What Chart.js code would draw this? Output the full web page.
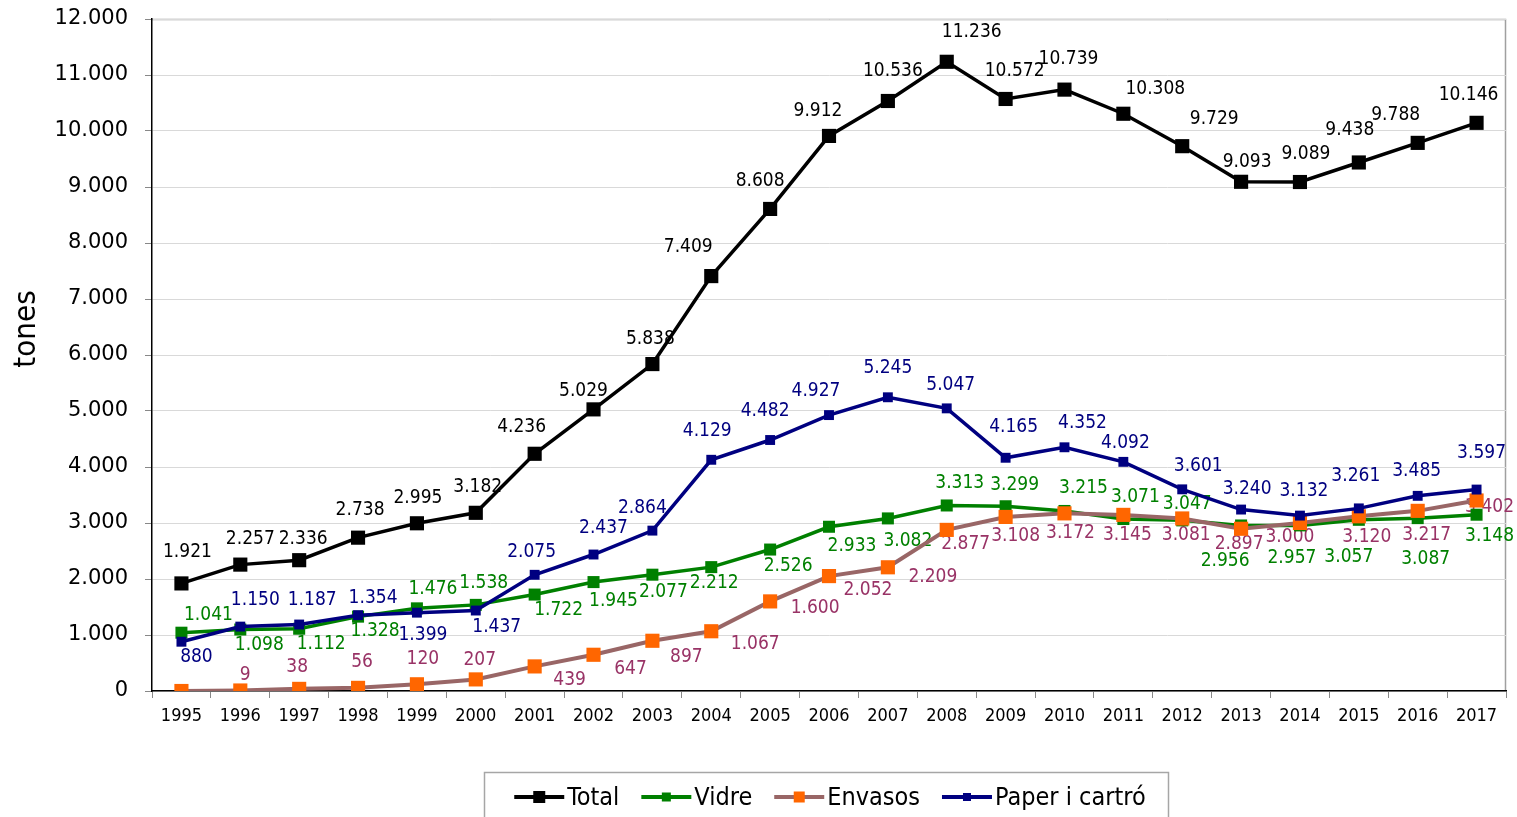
<!DOCTYPE html>
<html>
<head>
<meta charset="utf-8">
<script src="https://cdn.jsdelivr.net/npm/chart.js@4/dist/chart.umd.min.js"></script>
<style>
html, body { margin: 0; padding: 0; background: #fff; }
</style>
</head>
<body>
<canvas id="residusChart" width="1517" height="817"></canvas>
<script>
// data
var years = ['1995', '1996', '1997', '1998', '1999', '2000', '2001', '2002', '2003', '2004', '2005', '2006',
    '2007', '2008', '2009', '2010', '2011', '2012', '2013', '2014', '2015', '2016', '2017'];
var total = [1921, 2257, 2336, 2738, 2995, 3182, 4236, 5029, 5838, 7409, 8608, 9912,
    10536, 11236, 10572, 10739, 10308, 9729, 9093, 9089, 9438, 9788, 10146];
var vidre = [1041, 1098, 1112, 1328, 1476, 1538, 1722, 1945, 2077, 2212, 2526, 2933,
    3082, 3313, 3299, 3215, 3071, 3047, 2956, 2957, 3057, 3087, 3148];
var envasos = [0, 9, 38, 56, 120, 207, 439, 647, 897, 1067, 1600, 2052,
    2209, 2877, 3108, 3172, 3145, 3081, 2897, 3000, 3120, 3217, 3402];
var paper = [880, 1150, 1187, 1354, 1399, 1437, 2075, 2437, 2864, 4129, 4482, 4927,
    5245, 5047, 4165, 4352, 4092, 3601, 3240, 3132, 3261, 3485, 3597];
var yMax = 12000;
var yStep = 1000;

// where each value label sits relative to its point (dx, dy in px)
var totalLabelPos = [[6,-31],[10,-26],[4,-21],[2,-28],[1,-25],[2,-26],[-13,-27],[-10,-18],[-2,-25],[-23,-29],[-10,-28],[-11,-25],
    [5,-30],[25,-30],[9,-28],[4,-31],[32,-25],[32,-27],[6,-20],[6,-28],[-9,-32],[-22,-28],[-8,-28]];
var vidreLabelPos = [[27,-18],[19,16],[22,15],[17,14],[16,-19],[8,-22],[24,15],[20,19],[11,17],[3,16],[18,17],[23,19],
    [20,23],[13,-22],[9,-21],[19,-23],[12,-22],[5,-16],[-16,36],[-8,33],[-10,37],[8,41],[13,21]];
var envasosLabelPos = [null,[5,-15],[-2,-22],[4,-26],[6,-25],[4,-19],[35,14],[37,14],[34,16],[44,13],[45,7],[39,14],
    [45,10],[19,14],[10,19],[6,20],[4,20],[4,17],[-2,15],[-10,14],[8,21],[9,24],[13,7]];
var paperLabelPos = [[15,15],[15,-27],[13,-24],[15,-17],[6,22],[21,17],[-3,-23],[10,-26],[-10,-23],[-4,-29],[-5,-29],[-13,-24],
    [0,-29],[4,-23],[8,-31],[18,-24],[2,-19],[16,-23],[6,-20],[4,-25],[-3,-32],[-1,-25],[5,-37]];

var condensed = '"DejaVu Sans Condensed", "Liberation Sans Narrow", "Liberation Sans", sans-serif';
var wide = '"DejaVu Sans", Verdana, sans-serif';

function fmt(v) {
    return String(v).replace(/\B(?=(\d{3})+(?!\d))/g, '.');
}

var valueLabels = {
    id: 'valueLabels',
    beforeDatasetsDraw: function(chart) {
        var ctx = chart.ctx;
        ctx.save();
        ctx.font = '19px ' + condensed;
        ctx.textAlign = 'center';
        ctx.textBaseline = 'middle';
        chart.data.datasets.forEach(function(ds, di) {
            var meta = chart.getDatasetMeta(di);
            ctx.fillStyle = ds.labelColor;
            meta.data.forEach(function(pt, i) {
                var pos = ds.labelPos[i];
                if (!pos) return;
                ctx.fillText(fmt(ds.data[i]), pt.x + pos[0], pt.y + pos[1]);
            });
        });
        ctx.restore();
    }
};

var frameAndLegend = {
    id: 'frameAndLegend',
    beforeDraw: function(chart) {
        var a = chart.chartArea;
        var ctx = chart.ctx;
        ctx.save();
        ctx.strokeStyle = '#a0a0a0';
        ctx.lineWidth = 1.5;
        ctx.beginPath();
        ctx.moveTo(a.left, a.top + 0.5);
        ctx.lineTo(a.right - 0.5, a.top + 0.5);
        ctx.lineTo(a.right - 0.5, a.bottom);
        ctx.stroke();
        ctx.restore();
    },
    afterDraw: function(chart) {
        var ctx = chart.ctx;
        ctx.save();
        // y axis title
        ctx.font = '31px ' + condensed;
        ctx.fillStyle = '#000';
        ctx.textAlign = 'center';
        ctx.textBaseline = 'middle';
        ctx.translate(27, 329);
        ctx.rotate(-Math.PI / 2);
        ctx.fillText('tones', 0, 0);
        ctx.restore();

        // legend
        ctx.save();
        ctx.font = '25px ' + condensed;
        var sample = 50, gap = 3, between = 22;
        var items = chart.data.datasets;
        var widths = items.map(function(ds) { return sample + gap + ctx.measureText(ds.label).width; });
        var full = widths.reduce(function(s, w) { return s + w; }, 0) + between * (items.length - 1);
        var x = 830 - full / 2;
        var y = 797;
        ctx.strokeStyle = '#a6a6a6';
        ctx.lineWidth = 1.5;
        ctx.strokeRect(484.5, 772.5, 684, 60);
        items.forEach(function(ds, i) {
            ctx.strokeStyle = ds.borderColor;
            ctx.lineWidth = 4;
            ctx.beginPath();
            ctx.moveTo(x, y);
            ctx.lineTo(x + sample, y);
            ctx.stroke();
            var s = ds.legendMarker;
            ctx.fillStyle = ds.pointBackgroundColor;
            ctx.fillRect(x + sample / 2 - s / 2, y - s / 2, s, s);
            ctx.fillStyle = '#000';
            ctx.textAlign = 'left';
            ctx.textBaseline = 'middle';
            ctx.fillText(ds.label, x + sample + gap, y + 1);
            x += widths[i] + between;
        });
        ctx.restore();
    }
};

var ctxResidus = document.getElementById('residusChart').getContext('2d');
var residusChart = new Chart(ctxResidus, {
    type: 'line',
    data: {
        labels: years,
        datasets: [{
            label: 'Total',
            data: total,
            borderColor: '#000000',
            pointBackgroundColor: '#000000',
            borderWidth: 3.5,
            pointBorderWidth: 0,
            pointRadius: 10,
            legendMarker: 12,
            labelColor: '#000000',
            labelPos: totalLabelPos,
            order: 3
        }, {
            label: 'Vidre',
            data: vidre,
            borderColor: '#008000',
            pointBackgroundColor: '#008000',
            borderWidth: 3.5,
            pointBorderWidth: 0,
            pointRadius: 8.5,
            legendMarker: 9,
            labelColor: '#008000',
            labelPos: vidreLabelPos,
            order: 2
        }, {
            label: 'Envasos',
            data: envasos,
            borderColor: '#996666',
            pointBackgroundColor: '#ff6600',
            borderWidth: 4,
            pointBorderWidth: 0,
            pointRadius: 10,
            legendMarker: 11,
            labelColor: '#993366',
            labelPos: envasosLabelPos,
            order: 1
        }, {
            label: 'Paper i cartró',
            data: paper,
            borderColor: '#000080',
            pointBackgroundColor: '#000080',
            borderWidth: 3.5,
            pointBorderWidth: 0,
            pointRadius: 7,
            legendMarker: 8,
            labelColor: '#000080',
            labelPos: paperLabelPos,
            order: 0
        }]
    },
    options: {
        responsive: false,
        animation: false,
        layout: {
            padding: { top: 19, right: 11, bottom: 81, left: 0 }
        },
        elements: {
            line: { tension: 0, fill: false },
            point: { pointStyle: 'rect', borderWidth: 0, hoverRadius: 10 }
        },
        plugins: {
            legend: { display: false },
            tooltip: { enabled: false },
            title: { display: false }
        },
        scales: {
            x: {
                offset: true,
                afterFit: function(scale) { scale.height = 45; },
                border: { color: '#000', width: 1.5 },
                grid: {
                    offset: true,
                    drawOnChartArea: false,
                    drawTicks: true,
                    tickLength: 7,
                    tickColor: '#888'
                },
                ticks: {
                    color: '#000',
                    padding: 8,
                    maxRotation: 0,
                    autoSkip: false,
                    font: { family: condensed, size: 18 }
                }
            },
            y: {
                min: 0,
                max: yMax,
                afterFit: function(scale) {
                    scale.width = 152;
                    scale.paddingTop = 0;
                    scale.paddingBottom = 0;
                },
                border: { color: '#000', width: 1.5 },
                grid: {
                    color: '#d9d9d9',
                    lineWidth: 1,
                    drawTicks: true,
                    tickLength: 7,
                    tickColor: '#888'
                },
                ticks: {
                    stepSize: yStep,
                    color: '#000',
                    padding: 17,
                    font: { family: wide, size: 21 },
                    callback: function(v) { return fmt(v); }
                }
            }
        }
    },
    plugins: [valueLabels, frameAndLegend]
});
</script>
</body>
</html>
